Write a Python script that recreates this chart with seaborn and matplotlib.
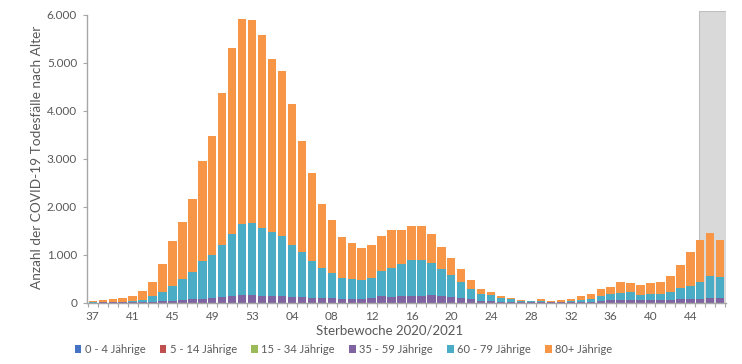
import numpy as np
import pandas as pd
import matplotlib
matplotlib.use("Agg")
import matplotlib.pyplot as plt
import seaborn as sns
from matplotlib.patches import Patch
from matplotlib.ticker import FuncFormatter, FixedLocator

# ---- data ----
weeks = [str(w) for w in range(37, 54)] + [f"{w:02d}" for w in range(1, 48)]
groups = ["0 - 4 Jährige", "5 - 14 Jährige", "15 - 34 Jährige",
          "35 - 59 Jährige", "60 - 79 Jährige", "80+ Jährige"]
colors = ["#4472C4", "#C0504D", "#9BBB59", "#8064A2", "#4BACC6", "#F79646"]

age_0_4 = [0] * 64
age_5_14 = [0] * 64
age_15_34 = [0, 0, 0, 0, 0, 0, 1, 1, 1, 2, 2, 3, 3, 4, 5, 6, 6, 6, 5, 5, 4, 4,
             3, 3, 3, 3, 3, 3, 3, 4, 4, 5, 5, 5, 5, 4, 4, 3, 2, 2, 1, 1, 1, 0,
             0, 0, 0, 0, 0, 0, 1, 1, 1, 1, 1, 1, 1, 1, 1, 2, 2, 2, 2, 2]
age_35_59 = [5, 8, 8, 10, 12, 15, 20, 30, 40, 55, 70, 85, 95, 110, 135, 150,
             160, 145, 140, 145, 120, 110, 100, 95, 90, 85, 80, 85, 90, 130,
             125, 130, 145, 145, 160, 135, 125, 95, 70, 45, 40, 25, 20, 10,
             10, 15, 8, 8, 12, 18, 22, 40, 50, 60, 65, 50, 55, 50, 60, 70,
             75, 80, 95, 90]
age_60_79 = [7, 10, 14, 18, 28, 45, 115, 205, 320, 435, 580, 785, 905, 1085,
             1295, 1490, 1495, 1415, 1340, 1250, 1075, 945, 775, 625, 535,
             435, 410, 395, 430, 535, 590, 678, 750, 750, 665, 565, 460, 330,
             215, 145, 125, 70, 55, 20, 20, 30, 17, 17, 28, 42, 63, 105, 140,
             140, 165, 110, 135, 125, 170, 230, 280, 350, 465, 445]
age_80 = [28, 42, 58, 67, 100, 190, 295, 575, 930, 1185, 1510, 2075, 2480,
          3180, 3880, 4275, 4240, 4010, 3600, 3435, 2945, 2305, 1825, 1335,
          1105, 855, 755, 660, 680, 725, 805, 712, 695, 695, 605, 460, 345,
          275, 195, 95, 70, 50, 20, 20, 10, 25, 15, 25, 45, 75, 90, 140, 145,
          230, 175, 210, 215, 255, 330, 490, 700, 880, 890, 775]

tick_every = 4
incomplete_weeks = 3

series = [age_0_4, age_5_14, age_15_34, age_35_59, age_60_79, age_80]
rows = []
for g, vals in zip(groups, series):
    for i, v in enumerate(vals):
        rows.append({"pos": i, "group": g, "value": v})
df = pd.DataFrame(rows)

# ---- plot ----
sns.set_theme(style="white")
plt.rcParams["font.family"] = ["Lato", "DejaVu Sans"]

fig = plt.figure(figsize=(7.42, 3.64), dpi=100)
ax = fig.add_axes([0.117, 0.168, 0.861, 0.802])

n = len(weeks)
# shaded region for incomplete weeks
ax.axvspan(n - incomplete_weeks - 0.12, n - 0.45, ymin=0, ymax=1,
           facecolor="#D9D9D9", edgecolor="#BFBFBF", linewidth=0.8, zorder=0)

sns.histplot(data=df, x="pos", weights="value", hue="group",
             hue_order=groups[::-1], palette=dict(zip(groups, colors)),
             multiple="stack", discrete=True, shrink=0.84, element="bars",
             linewidth=0, alpha=1, legend=False, ax=ax, zorder=2)

ax.set_xlim(-0.6, n - 0.45)
ax.set_ylim(0, 6080)
ax.set_yticks(range(0, 6001, 1000))
ax.yaxis.set_major_formatter(FuncFormatter(lambda v, p: f"{int(v):,}".replace(",", ".")))

major = list(range(0, n, tick_every))
ax.set_xticks(major)
ax.set_xticklabels([weeks[i] for i in major])
ax.xaxis.set_minor_locator(FixedLocator([i - 0.5 for i in range(n + 1)]))
ax.tick_params(axis="x", which="major", length=0, pad=6, labelsize=8.5, colors="#595959")
ax.tick_params(axis="x", which="minor", length=3, width=0.8, color="#A6A6A6", bottom=True)
ax.tick_params(axis="y", which="major", length=3, width=0.8, color="#A6A6A6",
               left=True, labelsize=8.5, labelcolor="#595959", pad=4)

for s in ["top", "right"]:
    ax.spines[s].set_visible(False)
ax.spines["left"].set_bounds(0, 6000)
for s in ["left", "bottom"]:
    ax.spines[s].set_color("#A6A6A6")
    ax.spines[s].set_linewidth(1.0)

ax.set_xlabel("Sterbewoche 2020/2021", fontsize=9.5, color="#595959")
ax.xaxis.set_label_coords((390 - 87) / (726 - 87), -0.075)
ax.set_ylabel("Anzahl der COVID-19 Todesfälle nach Alter", fontsize=9.8,
              color="#595959")
ax.yaxis.set_label_coords(-0.068, 0.5)
ax.grid(False)

handles = [Patch(facecolor=c, edgecolor="none") for c in colors]
fig.legend(handles, groups, loc="center", bbox_to_anchor=(0.463, 0.04), ncol=6,
           frameon=False, fontsize=8, handlelength=0.6, handleheight=0.6,
           handletextpad=0.3, columnspacing=1.3, labelcolor="#595959")

fig.savefig("out.png", dpi=100)
